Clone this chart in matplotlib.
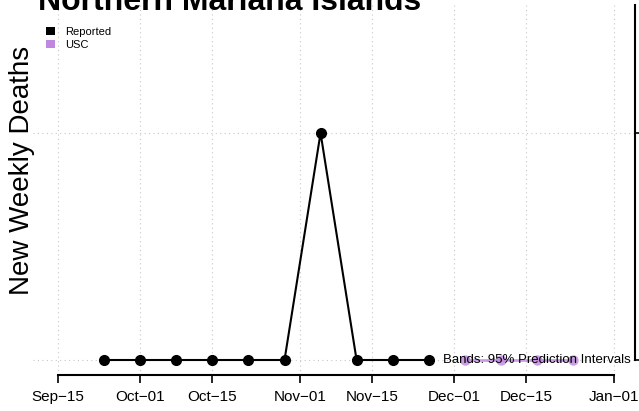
import matplotlib
matplotlib.use("Agg")
import matplotlib.pyplot as plt
import matplotlib.dates as mdates
from matplotlib.patches import Patch
from datetime import datetime

# Data
reported_dates = ["2020-09-24", "2020-10-01", "2020-10-08", "2020-10-15", "2020-10-22",
                  "2020-10-29", "2020-11-05", "2020-11-12", "2020-11-19", "2020-11-26"]
reported_values = [0, 0, 0, 0, 0, 0, 1, 0, 0, 0]
forecast_dates = ["2020-12-03", "2020-12-10", "2020-12-17", "2020-12-24"]
forecast_values = [0, 0, 0, 0]
forecast_lower = [0, 0, 0, 0]
forecast_upper = [0, 0, 0, 0]
tick_dates = ["2020-09-15", "2020-10-01", "2020-10-15", "2020-11-01", "2020-11-15",
              "2020-12-01", "2020-12-15", "2021-01-01"]
tick_labels = ["Sep\u221215", "Oct\u221201", "Oct\u221215", "Nov\u221201", "Nov\u221215",
               "Dec\u221201", "Dec\u221215", "Jan\u221201"]

def d(s):
    return mdates.date2num(datetime.strptime(s, "%Y-%m-%d"))

rx = [d(s) for s in reported_dates]
fx = [d(s) for s in forecast_dates]
tx = [d(s) for s in tick_dates]

plt.rcParams['font.family'] = ['Liberation Sans', 'DejaVu Sans']
purple = "#BF87E0"

fig = plt.figure(figsize=(6.39, 4.11), dpi=100)
W, H = 639, 411
ax = fig.add_axes([33 / W, (411 - 375) / H, (635 - 33) / W, (375 - 4) / H])

px_per_day = (614 - 58) / (tx[-1] - tx[0])
xl = tx[0] - (58 - 33) / px_per_day
xr = tx[-1] + (635 - 614) / px_per_day
ax.set_xlim(xl, xr)
ppu = 360 - 133
ax.set_ylim(-(375 - 360) / ppu, (360 - 4) / ppu)

# grid
for x in tx:
    ax.axvline(x, color="#c8c8c8", linestyle=(0, (1, 3)), linewidth=0.8, zorder=0)
for y in [0, 1]:
    ax.axhline(y, color="#c8c8c8", linestyle=(0, (1, 3)), linewidth=0.8, zorder=0)

# forecast band and points
ax.fill_between(fx, forecast_lower, forecast_upper, color=purple, alpha=0.4, linewidth=0)
ax.plot(fx, forecast_values, color=purple, linewidth=2, alpha=0.8, zorder=2)
ax.plot(fx, forecast_values, 'o', color=purple, markersize=7.5, alpha=0.8,
        markeredgewidth=0, zorder=2)

# reported
ax.plot(rx, reported_values, color="black", linewidth=1.5, marker='o',
        markersize=7, zorder=3)

# spines
ax.spines['left'].set_visible(False)
ax.spines['top'].set_visible(False)
ax.spines['bottom'].set_bounds(tx[0], tx[-1])
ax.spines['bottom'].set_linewidth(1.5)
ax.spines['right'].set_linewidth(1.5)
ax.spines['right'].set_bounds(0, (360 - 5) / ppu)

ax.set_xticks(tx)
ax.set_xticklabels(tick_labels, fontsize=11)
ax.tick_params(axis='x', length=6, width=1.2, pad=5)
ax.yaxis.tick_right()
ax.set_yticks([0, 1])
ax.set_yticklabels(["", ""])
ax.tick_params(axis='y', length=5, width=1.2, direction='out')

ax.text(xr - 0.8, 0, "Bands: 95% Prediction Intervals", ha='right', va='center',
        fontsize=9.5, zorder=5)

fig.text(22 / W, 1 - 170 / H, "New Weekly Deaths", rotation=90, ha='center',
         va='center', fontsize=20)
fig.text(38 / W, 1 - 10 / H, "Northern Mariana Islands", ha='left', va='baseline',
         fontsize=23, fontweight='bold')

# legend
handles = [Patch(facecolor="black", edgecolor="none", label="Reported"),
           Patch(facecolor=purple, edgecolor="none", label="USC")]
fig.legend(handles=handles, loc='upper left', bbox_to_anchor=(46 / W, 1 - 27 / H),
           frameon=False, fontsize=8, handlelength=0.8, handleheight=0.8,
           handletextpad=0.9, labelspacing=0.25, borderpad=0, borderaxespad=0)

fig.savefig("out.png", dpi=100)
